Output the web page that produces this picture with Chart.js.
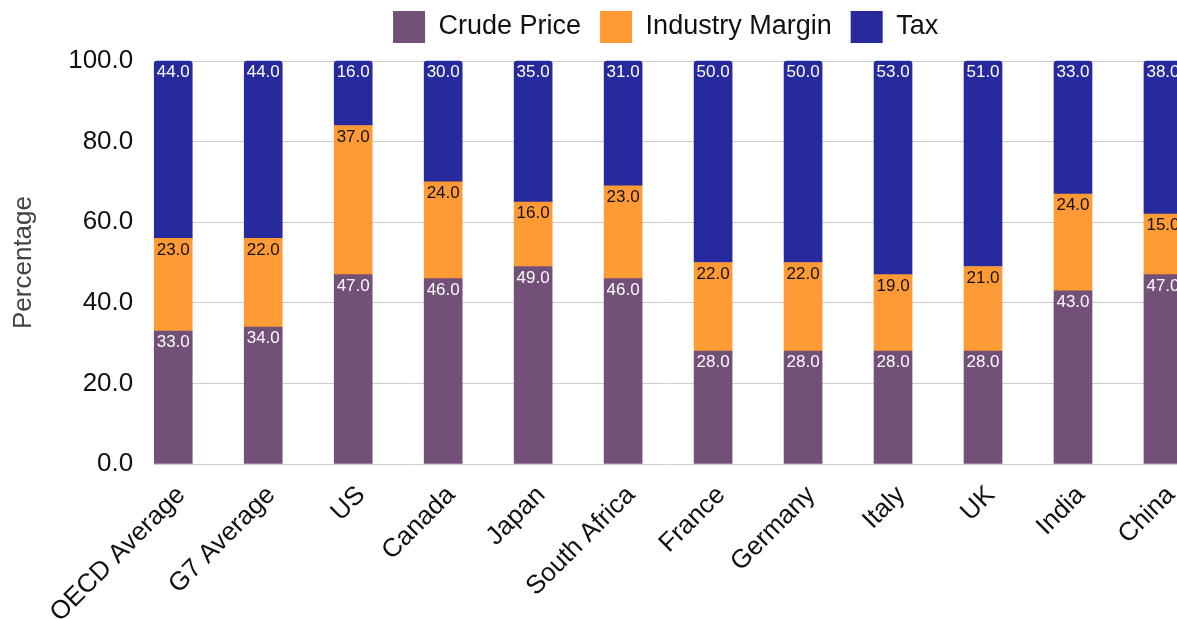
<!DOCTYPE html>
<html>
<head>
<meta charset="utf-8">
<script src="https://cdn.jsdelivr.net/npm/chart.js@4"></script>
<style>
  html, body { margin: 0; padding: 0; background: #fff; overflow: hidden; }
  #wrap { width: 1177px; height: 619px; }
</style>
</head>
<body>
<div id="wrap"><canvas id="grafico"></canvas></div>
<script>
const paesi = ["OECD Average", "G7 Average", "US", "Canada", "Japan", "South Africa",
  "France", "Germany", "Italy", "UK", "India", "China"];
const crudePrice = [33, 34, 47, 46, 49, 46, 28, 28, 28, 28, 43, 47];
const industryMargin = [23, 22, 37, 24, 16, 23, 22, 22, 19, 21, 24, 15];
const tax = [44, 44, 16, 30, 35, 31, 50, 50, 53, 51, 33, 38];
const yTicks = [0, 20, 40, 60, 80, 100];

const FONT = "'Liberation Sans', Arial, sans-serif";

// x numerico per poter spostare le barre rispetto al bordo dell'area
const punti = (arr) => arr.map((v, i) => ({ x: i, y: v }));

// etichette dei valori dentro ogni segmento
const etichetteValori = {
  id: "etichetteValori",
  afterDatasetsDraw(chart) {
    const ctx = chart.ctx;
    ctx.save();
    ctx.font = "17px " + FONT;
    ctx.textAlign = "center";
    ctx.textBaseline = "top";
    chart.data.datasets.forEach((ds, di) => {
      const meta = chart.getDatasetMeta(di);
      meta.data.forEach((bar, i) => {
        ctx.fillStyle = ds.labelColor;
        ctx.fillText(ds.data[i].y.toFixed(1), bar.x, bar.y + 3);
      });
    });
    ctx.restore();
  }
};

// legenda: altezza fissa e disegnata un po' piu' in alto
const altezzaLegenda = {
  id: "altezzaLegenda",
  beforeInit(chart) {
    const leg = chart.legend;
    const fitOrig = leg.fit;
    leg.fit = function () {
      fitOrig.call(leg);
      this.height = 61;
    };
    const drawOrig = leg.draw;
    leg.draw = function () {
      this.ctx.save();
      this.ctx.translate(0, -8);
      drawOrig.call(leg);
      this.ctx.restore();
    };
  }
};

new Chart(document.getElementById("grafico"), {
  type: "bar",
  data: {
    datasets: [
      {
        label: "Crude Price",
        data: punti(crudePrice),
        backgroundColor: "#725077",
        labelColor: "#ffffff",
        clip: false
      },
      {
        label: "Industry Margin",
        data: punti(industryMargin),
        backgroundColor: "#ff9a35",
        labelColor: "#111111",
        clip: false
      },
      {
        label: "Tax",
        data: punti(tax),
        backgroundColor: "#272a9c",
        labelColor: "#ffffff",
        borderRadius: { topLeft: 3, topRight: 3 },
        borderSkipped: false,
        clip: false
      }
    ]
  },
  options: {
    responsive: true,
    maintainAspectRatio: false,
    animation: false,
    layout: { padding: { left: 8, right: 0, top: 0, bottom: 0 } },
    plugins: {
      legend: {
        position: "top",
        fullSize: false,
        labels: {
          font: { family: FONT, size: 27 },
          color: "#111",
          boxWidth: 32,
          boxHeight: 32,
          padding: 19
        }
      },
      tooltip: { enabled: false }
    },
    scales: {
      x: {
        type: "linear",
        stacked: true,
        offset: false,
        min: -0.211,
        max: 11.156,
        grid: { display: false, offset: false },
        border: { display: false },
        afterBuildTicks: (scale) => {
          scale.ticks = paesi.map((_, i) => ({ value: i }));
        },
        afterFit: (scale) => {
          scale.height = 155;
          scale.paddingLeft = 0;
          scale.paddingRight = 0;
        },
        ticks: {
          autoSkip: false,
          minRotation: 45,
          maxRotation: 45,
          padding: 8,
          labelOffset: 8,
          color: "#111",
          font: { family: FONT, size: 26 },
          callback: (v) => paesi[v]
        }
      },
      y: {
        stacked: true,
        min: 0,
        max: 100,
        afterBuildTicks: (scale) => {
          scale.ticks = yTicks.map((v) => ({ value: v }));
        },
        grid: { color: "#cccccc", drawTicks: false },
        border: { display: false },
        ticks: {
          padding: 21,
          color: "#111",
          font: { family: FONT, size: 26 },
          callback: (v) => v.toFixed(1)
        },
        title: {
          display: true,
          text: "Percentage",
          color: "#444",
          font: { family: FONT, size: 26 },
          padding: { top: 0, bottom: 8 }
        }
      }
    },
    datasets: { bar: { barThickness: 38 } }
  },
  plugins: [etichetteValori, altezzaLegenda]
});
</script>
</body>
</html>
